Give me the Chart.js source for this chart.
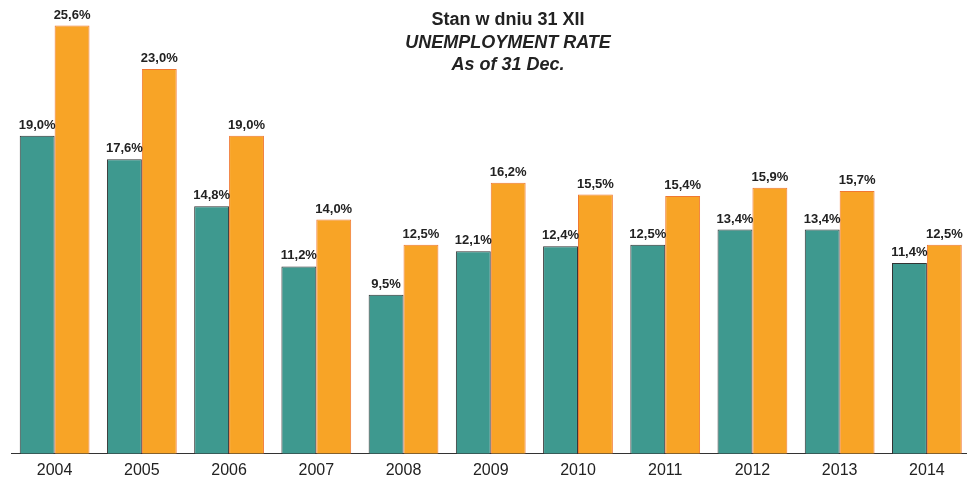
<!DOCTYPE html>
<html>
<head>
<meta charset="utf-8">
<script src="https://cdn.jsdelivr.net/npm/chart.js@4.4.1/dist/chart.umd.min.js"></script>
<style>
  html, body { margin: 0; padding: 0; background: #fff; overflow: hidden; }
  #wrap { width: 967px; height: 479px; overflow: hidden; }
</style>
</head>
<body>
<div id="wrap"><canvas id="myChart" width="972" height="479"></canvas></div>
<script>
let years = ['2004', '2005', '2006', '2007', '2008', '2009', '2010', '2011', '2012', '2013', '2014'];
let seriesA = [19.0, 17.6, 14.8, 11.2, 9.5, 12.1, 12.4, 12.5, 13.4, 13.4, 11.4];
let seriesB = [25.6, 23.0, 19.0, 14.0, 12.5, 16.2, 15.5, 15.4, 15.9, 15.7, 12.5];
let titleLines = ['Stan w dniu 31 XII', 'UNEMPLOYMENT RATE', 'As of 31 Dec.'];

// value labels above every bar, comma as decimal sign
const valueLabels = {
    id: 'valueLabels',
    afterDatasetsDraw(chart) {
        const ctx = chart.ctx;
        ctx.save();
        ctx.font = 'bold 13px "Liberation Sans", Arial, sans-serif';
        ctx.fillStyle = '#222';
        ctx.textAlign = 'center';
        ctx.textBaseline = 'bottom';
        chart.data.datasets.forEach((ds, di) => {
            const meta = chart.getDatasetMeta(di);
            meta.data.forEach((bar, i) => {
                let txt = ds.data[i].toFixed(1).replace('.', ',') + '%';
                ctx.fillText(txt, bar.x, bar.y - 4);
            });
        });
        ctx.restore();
    }
};

// title sits over the plot, not above it
const overTitle = {
    id: 'overTitle',
    afterDraw(chart) {
        const ctx = chart.ctx;
        ctx.save();
        ctx.fillStyle = '#222';
        ctx.textAlign = 'center';
        ctx.textBaseline = 'alphabetic';
        const fonts = ['bold 18px', 'italic bold 18px', 'italic bold 18px'];
        const cx = 508;
        titleLines.forEach((t, i) => {
            ctx.font = fonts[i] + ' "Liberation Sans", Arial, sans-serif';
            ctx.fillText(t, cx, 25 + i * 22.5);
        });
        ctx.restore();
    }
};

const data = {
    labels: years,
    datasets: [{
        label: 'A',
        data: seriesA,
        backgroundColor: 'rgb(62, 153, 143)',
        borderColor: '#333',
        borderWidth: 1,
        categoryPercentage: 0.8,
        barPercentage: 1.0
    }, {
        label: 'B',
        data: seriesB,
        backgroundColor: 'rgb(248, 164, 38)',
        borderColor: 'rgb(240, 120, 50)',
        borderWidth: 1,
        categoryPercentage: 0.8,
        barPercentage: 1.0
    }]
};

const config = {
    type: 'bar',
    data: data,
    options: {
        responsive: false,
        animation: false,
        layout: {
            padding: { left: 11, right: 1.5, top: 2, bottom: -8 }
        },
        plugins: {
            legend: { display: false },
            title: { display: false },
            tooltip: { enabled: false }
        },
        scales: {
            x: {
                grid: { display: false, drawTicks: false },
                border: { display: true, color: '#333', width: 1 },
                ticks: {
                    color: '#222',
                    padding: 7,
                    font: { family: '"Liberation Sans", Arial, sans-serif', size: 16 }
                }
            },
            y: {
                display: false,
                min: 0,
                max: 27
            }
        }
    },
    plugins: [valueLabels, overTitle]
};

let myChart = new Chart(document.getElementById('myChart'), config);
</script>
</body>
</html>
